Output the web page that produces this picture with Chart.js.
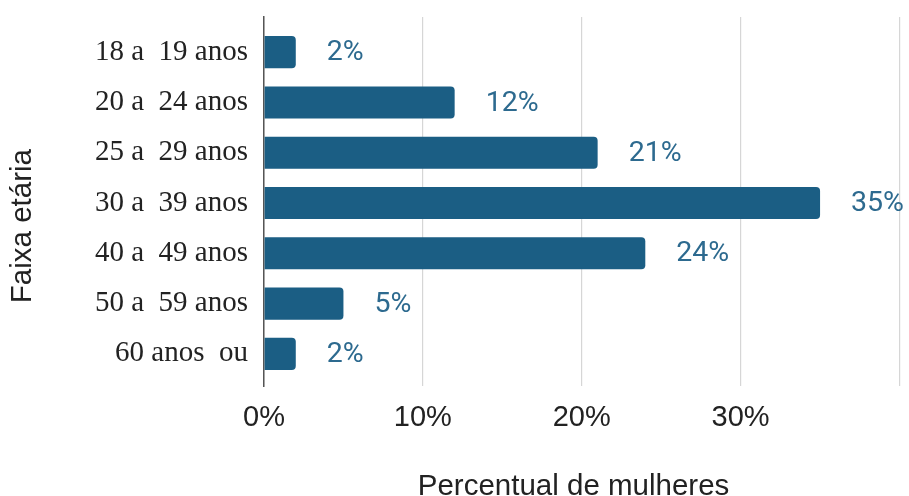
<!DOCTYPE html>
<html>
<head>
<meta charset="utf-8">
<script src="https://cdn.jsdelivr.net/npm/chart.js@4/dist/chart.umd.min.js"></script>
<style>
  html, body { margin: 0; padding: 0; background: #fff; }
  #wrap { width: 909px; height: 496px; }
</style>
</head>
<body>
<div id="wrap"><canvas id="ageChart"></canvas></div>
<script>
const ageGroups = ["18 a  19 anos", "20 a  24 anos", "25 a  29 anos", "30 a  39 anos", "40 a  49 anos", "50 a  59 anos", "60 anos  ou"]
const womenPct = [2, 12, 21, 35, 24, 5, 2]
const xTicks = [0, 10, 20, 30, 40]

const barColor = "#1b5e84"
const labelColor = "#2d6a8f"
const sansFont = "'Liberation Sans', Arial, sans-serif"
const serifFont = "'Liberation Serif', 'Times New Roman', serif"

// writes "NN%" just past the end of each bar
const valueLabels = {
    id: "valueLabels",
    afterDatasetsDraw(chart) {
        const ctx = chart.ctx
        const meta = chart.getDatasetMeta(0)
        ctx.save()
        ctx.font = "28.5px Roboto"
        ctx.fillStyle = labelColor
        ctx.textAlign = "left"
        ctx.textBaseline = "middle"
        meta.data.forEach((bar, i) => {
            ctx.fillText(womenPct[i] + "%", bar.x + 31, bar.y + 1)
        })
        ctx.restore()
    }
}

function main() {
    const points = womenPct.map((v, i) => ({x: v, y: i}))

    new Chart("ageChart", {
        type: "bar",
        data: {
            datasets: [{
                data: points,
                backgroundColor: barColor,
                borderRadius: 4,
                borderSkipped: "start",
                barPercentage: 0.64,
                categoryPercentage: 1
            }]
        },
        plugins: [valueLabels],
        options: {
            indexAxis: "y",
            responsive: true,
            maintainAspectRatio: false,
            animation: false,
            layout: {padding: {top: 0, right: 9.5, left: 0, bottom: 0}},
            plugins: {legend: {display: false}, tooltip: {enabled: false}},
            scales: {
                x: {
                    type: "linear",
                    min: 0,
                    max: 40,
                    afterBuildTicks: scale => { scale.ticks = xTicks.map(v => ({value: v})) },
                    afterFit: scale => {
                        scale.height = 110
                        scale.paddingLeft = 0
                        scale.paddingRight = 0
                    },
                    ticks: {
                        padding: 15,
                        color: "#222",
                        font: {family: sansFont, size: 29},
                        callback: v => v === 40 ? "" : v + "%"
                    },
                    grid: {color: "#d6d6d6", lineWidth: 1.2, drawTicks: false},
                    border: {display: false},
                    title: {
                        display: true,
                        text: "Percentual de mulheres  ",
                        color: "#222",
                        font: {family: sansFont, size: 29.5, lineHeight: 0.6},
                        padding: 0
                    }
                },
                y: {
                    type: "linear",
                    offset: false,
                    reverse: true,
                    min: -0.7,
                    max: 6.64,
                    afterBuildTicks: scale => { scale.ticks = ageGroups.map((g, i) => ({value: i})) },
                    afterFit: scale => {
                        scale.width = 264
                        // plot starts 17px below the top edge
                        scale.paddingTop = 17
                        scale.paddingBottom = 0
                    },
                    ticks: {
                        padding: 16,
                        color: "#222",
                        font: {family: serifFont, size: 29},
                        callback: v => ageGroups[v]
                    },
                    grid: {display: false, drawTicks: false},
                    border: {display: true, color: "#555", width: 1.5},
                    title: {
                        display: true,
                        text: "Faixa etária      ",
                        color: "#222",
                        font: {family: sansFont, size: 29.5, lineHeight: 1.2},
                        padding: {top: 5}
                    }
                }
            }
        }
    })
}

main()
</script>
</body>
</html>
